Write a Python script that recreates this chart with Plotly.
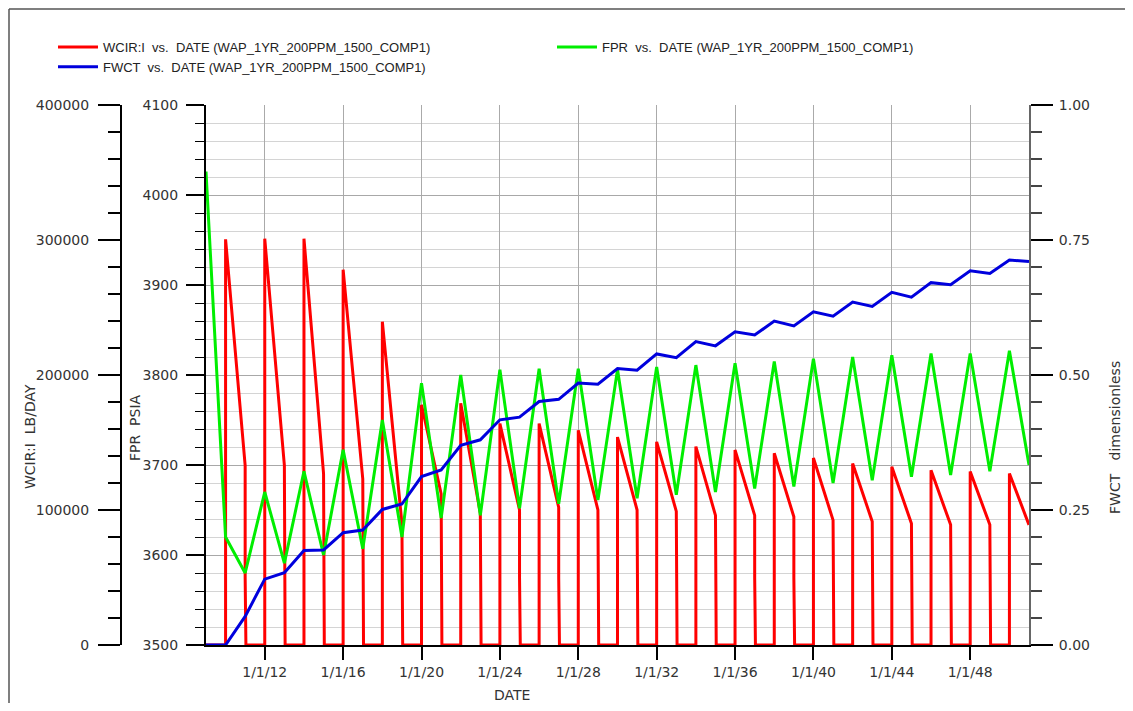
import pandas as pd
import plotly.graph_objects as go

# ---------------- data ----------------
YEARS = list(range(2009, 2052))  # yearly report dates (1 Jan)

FPR = [4026, 3620, 3580, 3670, 3591, 3693, 3600, 3717, 3607, 3750,
       3620, 3791, 3641, 3800, 3644, 3806, 3652, 3807, 3657, 3807,
       3661, 3806, 3663, 3809, 3667, 3811, 3670, 3813, 3674, 3815,
       3676, 3818, 3680, 3820, 3683, 3822, 3687, 3824, 3689, 3824,
       3693, 3827, 3700]

FWCT = [0.000, 0.000, 0.053, 0.122, 0.134, 0.175, 0.176, 0.208, 0.213, 0.251,
        0.261, 0.312, 0.324, 0.370, 0.380, 0.417, 0.422, 0.451, 0.455, 0.485,
        0.483, 0.512, 0.509, 0.539, 0.532, 0.562, 0.554, 0.580, 0.574, 0.600,
        0.591, 0.617, 0.609, 0.635, 0.627, 0.653, 0.644, 0.671, 0.667, 0.693,
        0.688, 0.713, 0.710]

INJ_START_YEARS = list(range(2010, 2051, 2))
WCIR_PEAK = [300500, 301000, 301000, 278000, 239500, 178000, 179000, 164000,
             164000, 159000, 154000, 150500, 147000, 144500, 142000, 138500,
             134500, 132000, 129500, 128500, 127000]
WCIR_END = [133000, 133000, 127000, 123000, 90000, 112000, 97500, 100000,
            102000, 100000, 100000, 99000, 96000, 96000, 95000, 92500,
            91500, 90000, 89000, 89000, 89000]
WCIR_CUTOFF = 50000          # level where the shut-in drop shows a small kink
CUTOFF_LAG_DAYS = 14         # kink lag after shut-in

X_TICK_LABELS = ["1/1/12", "1/1/16", "1/1/20", "1/1/24", "1/1/28",
                 "1/1/32", "1/1/36", "1/1/40", "1/1/44", "1/1/48"]
X_RANGE = ["2009-01-01", "2051-01-01"]

NAME_WCIR = "WCIR:I  vs.  DATE (WAP_1YR_200PPM_1500_COMP1)"
NAME_FPR = "FPR  vs.  DATE (WAP_1YR_200PPM_1500_COMP1)"
NAME_FWCT = "FWCT  vs.  DATE (WAP_1YR_200PPM_1500_COMP1)"

# ---------------- build series ----------------
dates = pd.to_datetime([f"{y}-01-01" for y in YEARS])
last_date = dates[-1]

wx, wy = [dates[0]], [0]
for yr, pk, en in zip(INJ_START_YEARS, WCIR_PEAK, WCIR_END):
    s = pd.Timestamp(f"{yr}-01-01")
    e = pd.Timestamp(f"{yr + 1}-01-01")
    wx += [s, s, e]
    wy += [0, pk, en]
    if e < last_date:
        wx += [e, e + pd.Timedelta(days=CUTOFF_LAG_DAYS)]
        wy += [WCIR_CUTOFF, 0]

tickvals = pd.to_datetime(X_TICK_LABELS, format="%m/%d/%y")

# page has an 8px body margin; keep the figure inside the body box
OFF = 8
W, H = 1133 - 2 * OFF, 711 - 2 * OFF
def px(x):
    return (x - OFF) / W
def py(y):
    return 1 - (y - OFF) / H

TICKFONT = dict(family="DejaVu Sans", size=14, color="#333333")

fig = go.Figure()
fig.add_trace(go.Scatter(x=wx, y=wy, mode="lines", name=NAME_WCIR, yaxis="y",
                         line=dict(color="#ff0000", width=3), legendrank=1))
fig.add_trace(go.Scatter(x=dates, y=FPR, mode="lines", name=NAME_FPR, yaxis="y2",
                         line=dict(color="#00ee00", width=3), legendrank=2))
fig.add_trace(go.Scatter(x=dates, y=FWCT, mode="lines", name=NAME_FWCT, yaxis="y3",
                         line=dict(color="#0000dd", width=3), legendrank=3))

ydom = [py(645), py(105)]

fig.update_layout(
    width=W, height=H, template="none",
    paper_bgcolor="white", plot_bgcolor="white",
    margin=dict(l=0, r=0, t=0, b=0, autoexpand=False),
    showlegend=True,
    legend=dict(orientation="h", x=px(53), y=py(32), xanchor="left", yanchor="top",
                entrywidth=444, entrywidthmode="pixels", itemwidth=40,
                font=dict(family="Liberation Sans", size=13, color="#222222"),
                bgcolor="rgba(0,0,0,0)", traceorder="normal"),
    xaxis=dict(type="date", range=X_RANGE, domain=[px(206), px(1029)], anchor="y2",
               tickvals=tickvals, ticktext=X_TICK_LABELS,
               ticks="outside", ticklen=13, tickwidth=2, tickcolor="black",
               showline=True, linecolor="black", linewidth=2,
               showgrid=True, gridcolor="#aaaaaa", gridwidth=1,
               tickfont=TICKFONT, zeroline=False),
    yaxis=dict(range=[0, 400000], domain=ydom, anchor="free", position=px(121),
               side="left", dtick=100000, tick0=0, tickformat="d",
               ticks="outside", ticklen=22, tickwidth=2, tickcolor="black",
               showline=True, linecolor="black", linewidth=2,
               showgrid=False, zeroline=False, tickfont=TICKFONT,
               ticklabelstandoff=6,
               minor=dict(dtick=20000, tick0=0, ticks="outside", ticklen=12,
                          tickwidth=1.5, tickcolor="black", showgrid=False)),
    yaxis2=dict(range=[3500, 4100], domain=ydom, overlaying="y", anchor="x",
                side="left", dtick=100, tick0=3500,
                ticks="outside", ticklen=18, tickwidth=2, tickcolor="black",
                showline=True, linecolor="black", linewidth=2,
                showgrid=True, gridcolor="#a8a8a8", gridwidth=1,
                zeroline=False, tickfont=TICKFONT, ticklabelstandoff=5,
                minor=dict(dtick=20, tick0=3500, ticks="outside", ticklen=9,
                           tickwidth=1, tickcolor="black",
                           showgrid=True, gridcolor="#d4d4d4", gridwidth=1)),
    yaxis3=dict(range=[0, 1], domain=ydom, overlaying="y", anchor="x",
                side="right", dtick=0.25, tick0=0, tickformat=".2f",
                ticks="outside", ticklen=22, tickwidth=2, tickcolor="black",
                showline=True, linecolor="#666666", linewidth=2,
                showgrid=False, zeroline=False, tickfont=TICKFONT,
                ticklabelstandoff=3,
                minor=dict(dtick=0.05, tick0=0, ticks="outside", ticklen=11,
                           tickwidth=1.5, tickcolor="#444444", showgrid=False)),
)

AX_TITLE_FONT = dict(family="DejaVu Sans", size=14, color="#333333")
annos = [
    dict(text="WCIR:I  LB/DAY", x=px(30), y=py(437), textangle=-90),
    dict(text="FPR  PSIA", x=px(135), y=py(428), textangle=-90),
    dict(text="FWCT   dimensionless", x=px(1115), y=py(438), textangle=-90),
    dict(text="DATE", x=px(512), y=py(695), textangle=0),
]
for a in annos:
    fig.add_annotation(xref="paper", yref="paper", showarrow=False,
                       xanchor="center", yanchor="middle", font=AX_TITLE_FONT, **a)

# outer frame (left and top edges)
for x0, y0, x1, y1 in [(9, 9, 9, 703), (9, 9, 1125, 9)]:
    fig.add_shape(type="line", xref="paper", yref="paper",
                  x0=px(x0), x1=px(x1), y0=py(y0), y1=py(y1),
                  line=dict(color="#555555", width=1.5), layer="below")

fig.write_html("out.html")
